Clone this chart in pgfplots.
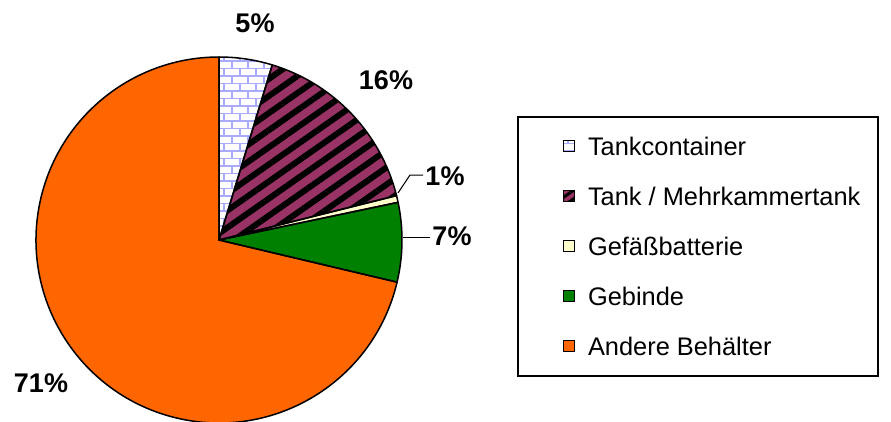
\documentclass[border=0pt]{standalone}
\usepackage{fontspec}
\setmainfont{Liberation Sans}
\usepackage{pgfplots}
\pgfplotsset{compat=1.18}
\usepackage{pgfplotstable}
\usetikzlibrary{patterns,patterns.meta}

\definecolor{brickblue}{RGB}{170,170,255}
\definecolor{tankpurple}{RGB}{153,51,102}
\definecolor{paleyellow}{RGB}{255,255,204}
\definecolor{gebgreen}{RGB}{0,128,0}
\definecolor{andorange}{RGB}{255,102,0}

\pgfdeclarepatternformonly{mybricks}{\pgfpoint{-1pt}{-1pt}}{\pgfpoint{17pt}{16pt}}{\pgfpoint{16pt}{15pt}}{%
  \pgfsetlinewidth{1.8pt}%
  \pgfpathmoveto{\pgfpoint{0pt}{0pt}}\pgfpathlineto{\pgfpoint{16pt}{0pt}}%
  \pgfpathmoveto{\pgfpoint{0pt}{7.5pt}}\pgfpathlineto{\pgfpoint{16pt}{7.5pt}}%
  \pgfpathmoveto{\pgfpoint{0pt}{0pt}}\pgfpathlineto{\pgfpoint{0pt}{7.5pt}}%
  \pgfpathmoveto{\pgfpoint{8pt}{7.5pt}}\pgfpathlineto{\pgfpoint{8pt}{15pt}}%
  \pgfusepath{stroke}%
}

\pgfplotstableread{
value
4.7
16.4
0.6
7.0
71.3
}\piedata

\pgfplotstablegetelem{0}{value}\of\piedata \let\vA\pgfplotsretval
\pgfplotstablegetelem{1}{value}\of\piedata \let\vB\pgfplotsretval
\pgfplotstablegetelem{2}{value}\of\piedata \let\vC\pgfplotsretval
\pgfplotstablegetelem{3}{value}\of\piedata \let\vD\pgfplotsretval
\pgfplotstablegetelem{4}{value}\of\piedata \let\vE\pgfplotsretval
\pgfmathsetmacro\aA{90}
\pgfmathsetmacro\aB{\aA-3.6*\vA}
\pgfmathsetmacro\aC{\aB-3.6*\vB}
\pgfmathsetmacro\aD{\aC-3.6*\vC}
\pgfmathsetmacro\aE{\aD-3.6*\vD}
\pgfmathsetmacro\aF{\aE-3.6*\vE}

\newcommand\slicepath[2]{(axis cs:219,181) -- ++(#1:183pt) arc[start angle=#1,end angle=#2,radius=183pt] -- cycle}

\begin{document}
\begin{tikzpicture}
\begin{axis}[
  x=1pt, y=1pt, xmin=0, xmax=891, ymin=0, ymax=421,
  hide axis, clip=false, anchor=origin, at={(0,0)},
  legend style={at={(axis cs:562,284.5)}, anchor=north west, draw=none, fill=none,
    inner sep=0pt, outer sep=0pt, row sep=30.5pt, column sep=12pt,
    font=\fontsize{25.4}{30}\selectfont,
    nodes={inner sep=0pt, text height=18.5pt, text depth=1pt},
    cells={anchor=west}},
  legend image code/.code={\draw[#1, line width=1pt] (0pt,-5.5pt) rectangle (11pt,5.5pt);},
]
% slices
\fill[andorange] \slicepath{\aE}{\aF};
\fill[gebgreen] \slicepath{\aD}{\aE};
\fill[paleyellow] \slicepath{\aC}{\aD};
\fill[tankpurple] \slicepath{\aB}{\aC};
\fill[pattern={Lines[angle=35,distance=14pt,line width=6pt]}, pattern color=black] \slicepath{\aB}{\aC};
\fill[white] \slicepath{\aA}{\aB};
\fill[pattern=mybricks, pattern color=brickblue] \slicepath{\aA}{\aB};
\draw[black, line width=1.5pt, line join=round] \slicepath{\aE}{\aF};
\draw[black, line width=1.5pt, line join=round] \slicepath{\aD}{\aE};
\draw[black, line width=1.5pt, line join=round] \slicepath{\aC}{\aD};
\draw[black, line width=1.5pt, line join=round] \slicepath{\aB}{\aC};
\draw[black, line width=1.5pt, line join=round] \slicepath{\aA}{\aB};
% leader lines
\draw[black, line width=1pt] (axis cs:398,228) -- (axis cs:410,246) -- (axis cs:423,246);
\draw[black, line width=1pt] (axis cs:403,184) -- (axis cs:430,184);
% labels
\begin{scope}[every node/.style={font=\bfseries\fontsize{27}{32}\selectfont, anchor=base, inner sep=0pt}]
\node at (axis cs:255,388) {5\%};
\node at (axis cs:386,331) {16\%};
\node at (axis cs:445,236) {1\%};
\node at (axis cs:452,176) {7\%};
\node at (axis cs:41,29) {71\%};
\end{scope}
% legend frame
\draw[black, line width=1.2pt] (axis cs:518,304) rectangle (axis cs:878,45);
% legend
\addlegendimage{fill=white, postaction={pattern=mybricks, pattern color=brickblue}, draw=black}
\addlegendentry{Tankcontainer}
\addlegendimage{fill=tankpurple, postaction={pattern={Lines[angle=35,distance=7pt,line width=3pt]}, pattern color=black}, draw=black}
\addlegendentry{Tank / Mehrkammertank}
\addlegendimage{fill=paleyellow, draw=black}
\addlegendentry{Gefäßbatterie}
\addlegendimage{fill=gebgreen, draw=black}
\addlegendentry{Gebinde}
\addlegendimage{fill=andorange, draw=black}
\addlegendentry{Andere Behälter}
\end{axis}
\pgfresetboundingbox
\path[use as bounding box] (0,0) rectangle (891pt,421pt);
\end{tikzpicture}
\end{document}
